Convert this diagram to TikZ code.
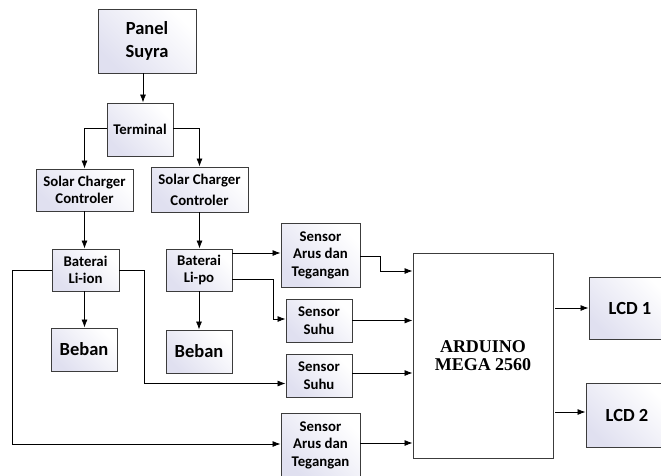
\documentclass[tikz,border=0pt]{standalone}
\usepackage{fontspec}
\setmainfont{Carlito}
\newfontfamily\ardfont{Liberation Serif}
\usetikzlibrary{arrows.meta}
\definecolor{gradc}{RGB}{224,224,240}
\definecolor{edgec}{RGB}{60,60,60}
\tikzset{
  blk/.style={draw=edgec, line width=0.9pt, shading=axis, left color=white, right color=gradc, shading angle=-45,
    inner sep=0pt, align=center, font=\bfseries\fontsize{14.8}{17.4}\selectfont},
  bigblk/.style={blk, font=\bfseries\fontsize{18.5}{23}\selectfont},
  conn/.style={line width=0.8pt, -{Latex[length=8pt,width=6pt]}},
}
\begin{document}
\begin{tikzpicture}[x=1pt,y=-1pt]
\useasboundingbox (0,0) rectangle (661,475);
\node[bigblk, minimum width=98pt, minimum height=64pt] (panel) at (147,41) {Panel\\Suyra};
\node[blk, minimum width=66pt, minimum height=53pt] (term) at (140,129.5) {Terminal};
\node[blk, minimum width=97pt, minimum height=42pt] (scc1) at (84.5,190) {Solar Charger\\Controler};
\node[blk, minimum width=97pt, minimum height=45pt, font=\bfseries\fontsize{14.8}{21}\selectfont] (scc2) at (199.5,189.5) {Solar Charger\\Controler};
\node[blk, minimum width=67pt, minimum height=42pt] (liion) at (85.5,270) {Baterai\\Li-ion};
\node[blk, minimum width=66pt, minimum height=42pt] (lipo) at (199,270) {Baterai\\Li-po};
\node[bigblk, minimum width=66pt, minimum height=43pt] (beban1) at (84,349.5) {Beban};
\node[bigblk, minimum width=66pt, minimum height=43pt] (beban2) at (199,351.5) {Beban};
\node[blk, minimum width=79pt, minimum height=64pt] (sa1) at (320.5,255) {Sensor\\Arus dan\\Tegangan};
\node[blk, minimum width=66pt, minimum height=43pt] (ss1) at (319,320.5) {Sensor\\Suhu};
\node[blk, minimum width=66pt, minimum height=43pt] (ss2) at (319,375.5) {Sensor\\Suhu};
\node[blk, minimum width=79pt, minimum height=64pt] (sa2) at (320.5,445) {Sensor\\Arus dan\\Tegangan};
\node[draw=edgec, line width=0.9pt, fill=white, minimum width=140pt, minimum height=205pt, inner sep=0pt, align=center,
  font=\ardfont\bfseries\fontsize{18}{18.5}\selectfont] (ard) at (483,355.5) {ARDUINO\\MEGA 2560};
\node[bigblk, minimum width=82pt, minimum height=62pt] (lcd1) at (630,308) {LCD 1};
\node[bigblk, minimum width=82pt, minimum height=64pt] (lcd2) at (627,415) {LCD 2};

\draw[conn] ([xshift=-4pt]panel.south) -- ([xshift=-4pt]panel.south |- term.north);
\draw[conn] ([yshift=1.5pt]term.west) -| (scc1.north);
\draw[conn] ([yshift=1.5pt]term.east) -| (scc2.north);
\draw[conn] (scc1.south) -- (scc1.south |- liion.north);
\draw[conn] (scc2.south) -- (scc2.south |- lipo.north);
\draw[conn] ([xshift=-1pt]liion.south) -- ([xshift=-1pt]liion.south |- beban1.north);
\draw[conn] (lipo.south) -- (lipo.south |- beban2.north);
\draw[conn] (liion.west) -- ++(-39,0) |- ([yshift=1pt]sa2.west);
\draw[conn] (liion.east) -- ++(25,0) |- ([yshift=-8pt]ss2.west);
\draw[conn] ([yshift=17pt]lipo.east) -- ([yshift=17pt]lipo.east -| sa1.west);
\draw[conn] ([yshift=-9pt]lipo.east) -- ++(41,0) |- ([yshift=1.5pt]ss1.west);
\draw[conn] ([yshift=-1pt]sa1.east) -- ++(20,0) |- ([yshift=84.5pt]ard.west);
\draw[conn] (ss1.east) -- (ss1.east -| ard.west);
\draw[conn] ([yshift=2.5pt]ss2.east) -- ([yshift=2.5pt]ss2.east -| ard.west);
\draw[conn] ([yshift=2pt]sa2.east) -- ([yshift=2pt]sa2.east -| ard.west);
\draw[conn] ([xshift=2pt]lcd1.west -| ard.east) -- (lcd1.west);
\draw[conn] ([xshift=2pt,yshift=3pt]lcd2.west -| ard.east) -- ([yshift=3pt]lcd2.west);
\end{tikzpicture}
\end{document}
